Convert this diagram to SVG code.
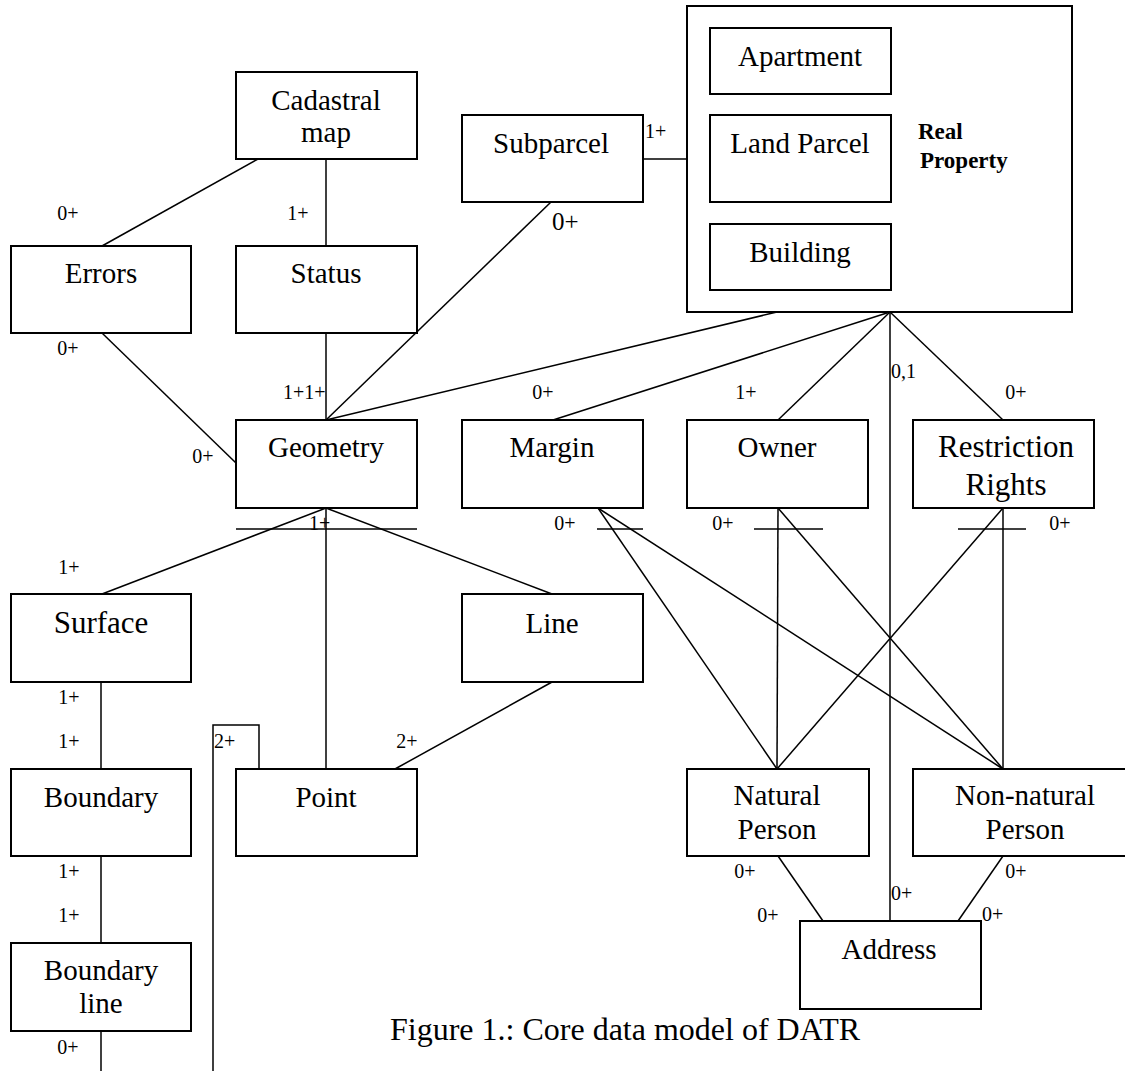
<svg xmlns="http://www.w3.org/2000/svg" width="1125" height="1071" viewBox="0 0 1125 1071">
<style>
.box{fill:#fff;stroke:#000;stroke-width:2}
.ln{fill:none;stroke:#000;stroke-width:1.5}
.t{font-family:"Liberation Serif","Times New Roman",serif;font-size:29px;fill:#000;text-anchor:middle}
.big{font-size:31px}
.lb{font-family:"Liberation Serif","Times New Roman",serif;font-size:20px;fill:#000;text-anchor:middle}
.ls{text-anchor:start}
.bold{font-family:"Liberation Serif","Times New Roman",serif;font-size:23px;font-weight:bold;fill:#000}
</style>
<rect width="1125" height="1071" fill="#fff"/>
<g id="connectors">
<line class="ln" x1="258" y1="159" x2="102" y2="246"/>
<line class="ln" x1="326" y1="159" x2="326" y2="246"/>
<line class="ln" x1="102" y1="333" x2="236" y2="463"/>
<line class="ln" x1="326" y1="333" x2="326" y2="420"/>
<line class="ln" x1="551" y1="202" x2="326" y2="420"/>
<line class="ln" x1="777" y1="312" x2="326" y2="420"/>
<line class="ln" x1="643" y1="159" x2="710" y2="159"/>
<line class="ln" x1="890" y1="312" x2="553" y2="420"/>
<line class="ln" x1="890" y1="312" x2="778" y2="420"/>
<line class="ln" x1="890" y1="312" x2="1003" y2="420"/>
<line class="ln" x1="890" y1="312" x2="890" y2="921"/>
<line class="ln" x1="597" y1="529" x2="643" y2="529"/>
<line class="ln" x1="754" y1="529" x2="823" y2="529"/>
<line class="ln" x1="958" y1="529" x2="1026" y2="529"/>
<line class="ln" x1="598" y1="508" x2="777" y2="769"/>
<line class="ln" x1="598" y1="508" x2="1003" y2="769"/>
<line class="ln" x1="778" y1="508" x2="777" y2="769"/>
<line class="ln" x1="778" y1="508" x2="1003" y2="769"/>
<line class="ln" x1="1003" y1="508" x2="777" y2="769"/>
<line class="ln" x1="1003" y1="508" x2="1003" y2="769"/>
<line class="ln" x1="778" y1="856" x2="823" y2="921"/>
<line class="ln" x1="1003" y1="856" x2="958" y2="921"/>
<line class="ln" x1="236" y1="529" x2="417" y2="529"/>
<line class="ln" x1="326" y1="508" x2="102" y2="594"/>
<line class="ln" x1="326" y1="508" x2="552" y2="594"/>
<line class="ln" x1="326" y1="508" x2="326" y2="769"/>
<line class="ln" x1="552" y1="682" x2="395" y2="769"/>
<line class="ln" x1="101" y1="682" x2="101" y2="769"/>
<line class="ln" x1="101" y1="856" x2="101" y2="943"/>
<line class="ln" x1="101" y1="1031" x2="101" y2="1071"/>
<polyline class="ln" points="213,1071 213,725 259,725 259,769"/>
<line class="ln" x1="913" y1="50" x2="913" y2="268"/>
</g>
<g id="cadastral-map"><rect class="box" x="236" y="72" width="181" height="87"/><text class="t" x="326" y="110">Cadastral</text><text class="t" x="326" y="142">map</text></g>
<g id="errors"><rect class="box" x="11" y="246" width="180" height="87"/><text class="t" x="101" y="283">Errors</text></g>
<g id="status"><rect class="box" x="236" y="246" width="181" height="87"/><text class="t" x="326" y="283">Status</text></g>
<g id="subparcel"><rect class="box" x="462" y="115" width="181" height="87"/><text class="t" x="551" y="153">Subparcel</text></g>
<g id="real-property"><rect class="box" x="687" y="6" width="385" height="306"/><text class="bold" x="918" y="139">Real</text><text class="bold" x="920" y="168">Property</text></g>
<g id="apartment"><rect class="box" x="710" y="28" width="181" height="66"/><text class="t" x="800" y="66">Apartment</text></g>
<g id="land-parcel"><rect class="box" x="710" y="115" width="181" height="87"/><text class="t" x="800" y="153">Land Parcel</text></g>
<g id="building"><rect class="box" x="710" y="224" width="181" height="66"/><text class="t" x="800" y="262">Building</text></g>
<g id="geometry"><rect class="box" x="236" y="420" width="181" height="88"/><text class="t" x="326" y="457">Geometry</text></g>
<g id="margin"><rect class="box" x="462" y="420" width="181" height="88"/><text class="t" x="552" y="457">Margin</text></g>
<g id="owner"><rect class="box" x="687" y="420" width="181" height="88"/><text class="t" x="777" y="457">Owner</text></g>
<g id="restriction-rights"><rect class="box" x="913" y="420" width="181" height="88"/><text class="t big" x="1006" y="457">Restriction</text><text class="t big" x="1006" y="495">Rights</text></g>
<g id="surface"><rect class="box" x="11" y="594" width="180" height="88"/><text class="t big" x="101" y="633">Surface</text></g>
<g id="line"><rect class="box" x="462" y="594" width="181" height="88"/><text class="t" x="552" y="633">Line</text></g>
<g id="boundary"><rect class="box" x="11" y="769" width="180" height="87"/><text class="t" x="101" y="807">Boundary</text></g>
<g id="point"><rect class="box" x="236" y="769" width="181" height="87"/><text class="t" x="326" y="807">Point</text></g>
<g id="boundary-line"><rect class="box" x="11" y="943" width="180" height="88"/><text class="t" x="101" y="980">Boundary</text><text class="t" x="101" y="1013">line</text></g>
<g id="natural-person"><rect class="box" x="687" y="769" width="182" height="87"/><text class="t" x="777" y="805">Natural</text><text class="t" x="777" y="839">Person</text></g>
<g id="non-natural-person"><rect class="box" x="913" y="769" width="224" height="87"/><text class="t" x="1025" y="805">Non-natural</text><text class="t" x="1025" y="839">Person</text></g>
<g id="address"><rect class="box" x="800" y="921" width="181" height="88"/><text class="t" x="889" y="959">Address</text></g>
<g id="labels">
<text class="lb" x="68" y="220">0+</text>
<text class="lb" x="298" y="220">1+</text>
<text class="lb" x="68" y="355">0+</text>
<text class="lb ls" x="283" y="399">1+1+</text>
<text class="lb" x="203" y="463">0+</text>
<text class="lb ls" x="552" y="230" style="font-size:25px">0+</text>
<text class="lb ls" x="645" y="138">1+</text>
<text class="lb" x="543" y="399">0+</text>
<text class="lb" x="746" y="399">1+</text>
<text class="lb ls" x="891" y="378">0,1</text>
<text class="lb" x="1016" y="399">0+</text>
<text class="lb" x="565" y="530">0+</text>
<text class="lb" x="723" y="530">0+</text>
<text class="lb" x="1060" y="530">0+</text>
<text class="lb ls" x="309" y="530">1+</text>
<text class="lb" x="69" y="574">1+</text>
<text class="lb" x="69" y="704">1+</text>
<text class="lb" x="69" y="748">1+</text>
<text class="lb" x="69" y="878">1+</text>
<text class="lb" x="69" y="922">1+</text>
<text class="lb" x="68" y="1054">0+</text>
<text class="lb ls" x="214" y="748">2+</text>
<text class="lb" x="407" y="748">2+</text>
<text class="lb" x="745" y="878">0+</text>
<text class="lb" x="768" y="922">0+</text>
<text class="lb ls" x="891" y="900">0+</text>
<text class="lb" x="1016" y="878">0+</text>
<text class="lb ls" x="982" y="921">0+</text>
</g>
<text x="390" y="1040" style="font-family:'Liberation Serif','Times New Roman',serif;font-size:32px;fill:#000">Figure 1.: Core data model of DATR</text>
</svg>
